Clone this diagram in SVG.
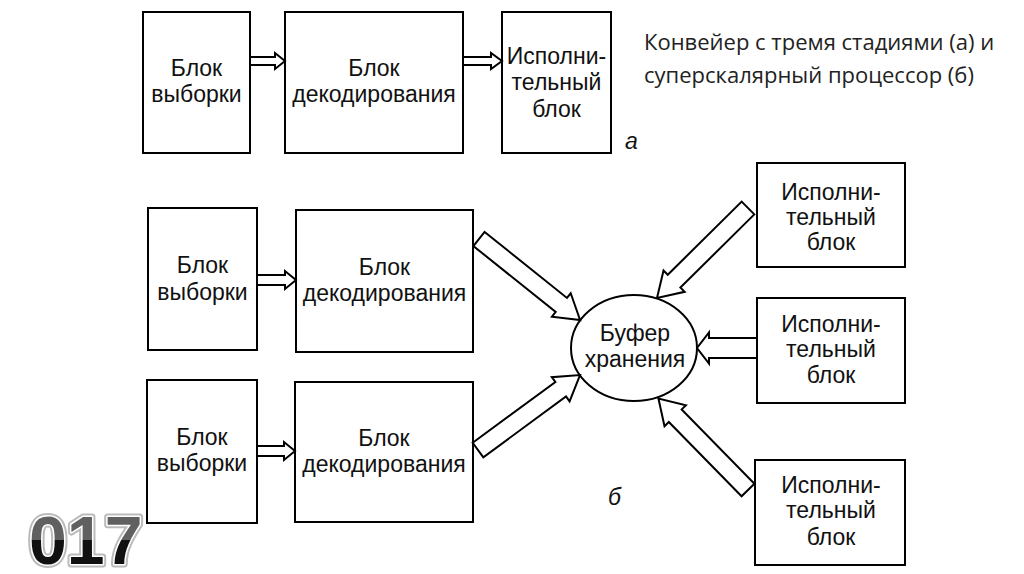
<svg xmlns="http://www.w3.org/2000/svg" width="1024" height="574" viewBox="0 0 1024 574">
<defs>
<linearGradient id="numg" x1="0" y1="0" x2="0" y2="1">
<stop offset="0" stop-color="#606060"/><stop offset="0.5" stop-color="#606060"/><stop offset="0.5" stop-color="#111"/><stop offset="1" stop-color="#111"/>
</linearGradient>
</defs>
<style>
.box{fill:#fff;stroke:#000;stroke-width:2}
.arr{fill:#fff;stroke:#000;stroke-width:2;stroke-linejoin:miter}
.t{font-family:"Liberation Sans",Arial,sans-serif;font-size:23px;fill:#111;text-anchor:middle}
.it{font-family:"Liberation Sans",Arial,sans-serif;font-size:23px;font-style:italic;fill:#111}
.cap{font-family:"Open Sans","Noto Sans",sans-serif;font-size:22px;fill:#222}
</style>
<rect width="1024" height="574" fill="#fff"/>

<g id="top-fetch"><rect class="box" x="143" y="12" width="107" height="141"/><text class="t" x="196.5" y="76">Блок</text><text class="t" x="196.5" y="102">выборки</text></g>
<g id="top-decode"><rect class="box" x="285" y="12" width="178" height="141"/><text class="t" x="374" y="76">Блок</text><text class="t" x="374" y="102">декодирования</text></g>
<g id="top-exec"><rect class="box" x="502" y="12" width="109" height="141"/><text class="t" x="556.5" y="64">Исполни-</text><text class="t" x="556.5" y="90">тельный</text><text class="t" x="556.5" y="117">блок</text></g>
<text class="it" x="625" y="149">а</text>

<g id="fetch1"><rect class="box" x="148" y="208" width="109" height="142"/><text class="t" x="202.5" y="273">Блок</text><text class="t" x="202.5" y="300">выборки</text></g>
<g id="decode1"><rect class="box" x="296" y="210" width="177" height="142"/><text class="t" x="384.5" y="275">Блок</text><text class="t" x="384.5" y="301">декодирования</text></g>
<g id="fetch2"><rect class="box" x="147" y="380" width="110" height="143"/><text class="t" x="202" y="445">Блок</text><text class="t" x="202" y="471">выборки</text></g>
<g id="decode2"><rect class="box" x="295" y="382" width="178" height="140"/><text class="t" x="384" y="446">Блок</text><text class="t" x="384" y="472">декодирования</text></g>

<g id="buffer"><ellipse cx="634" cy="348" rx="63" ry="53" fill="#fff" stroke="#000" stroke-width="2"/><text class="t" x="635" y="341">Буфер</text><text class="t" x="635" y="367">хранения</text></g>

<g id="execA"><rect class="box" x="757" y="163" width="148" height="104"/><text class="t" x="831" y="200">Исполни-</text><text class="t" x="831" y="225">тельный</text><text class="t" x="831" y="250">блок</text></g>
<g id="execB"><rect class="box" x="757" y="298" width="148" height="105"/><text class="t" x="831" y="332">Исполни-</text><text class="t" x="831" y="357">тельный</text><text class="t" x="831" y="383">блок</text></g>
<g id="execC"><rect class="box" x="755" y="460" width="150" height="105"/><text class="t" x="831" y="493">Исполни-</text><text class="t" x="831" y="518">тельный</text><text class="t" x="831" y="545">блок</text></g>
<text class="it" x="608" y="505">б</text>

<g id="connectors">
<path class="arr" d="M250,57 H275 V53 L285,61 L275,69 V65 H250 Z"/>
<path class="arr" d="M463,57 H491 V53 L502,61 L491,69 V65 H463 Z"/>
<path class="arr" d="M257,275 H285 V271 L296,280 L285,289 V285 H257 Z"/>
<path class="arr" d="M257,446 H284 V442 L295,451 L284,460 V456 H257 Z"/>
<path class="arr" transform="translate(479,239) rotate(38.7)" d="M0,-9 H105.5 V-15 L129.5,0 L105.5,15 V9 H0 Z"/>
<path class="arr" transform="translate(478,450) rotate(-36.3)" d="M0,-9 H102.6 V-15 L126.6,0 L102.6,15 V9 H0 Z"/>
<path class="arr" transform="translate(748,208) rotate(135.3)" d="M0,-9 H104 V-15 L128,0 L104,15 V9 H0 Z"/>
<path class="arr" transform="translate(748,490) rotate(-134.4)" d="M0,-9 H104 V-15 L128,0 L104,15 V9 H0 Z"/>
<path class="arr" transform="translate(757,348) rotate(180)" d="M0,-10 H48 V-15.5 L60,0 L48,15.5 V10 H0 Z"/>
</g>

<g id="caption">
<text class="cap" x="644" y="50">Конвейер с тремя стадиями (а) и</text>
<text class="cap" x="644" y="83">суперскалярный процессор (б)</text>
</g>

<g id="slide-number" font-family="'Liberation Sans',Arial,sans-serif" font-weight="bold" font-size="68">
<text x="29" y="564" fill="none" stroke="#bbb" stroke-width="7" stroke-linejoin="round">017</text>
<text x="29" y="564" fill="url(#numg)" stroke="#fff" stroke-width="3" stroke-linejoin="round" paint-order="stroke">017</text>
</g>
</svg>
